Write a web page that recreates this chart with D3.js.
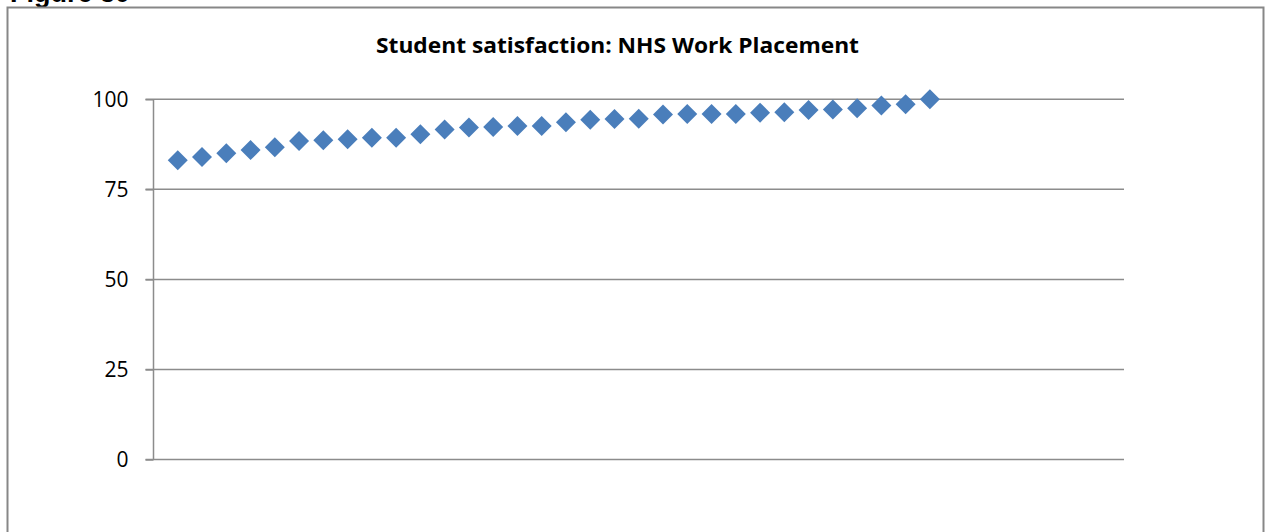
<!DOCTYPE html>
<html><head><meta charset="utf-8">
<script src="https://cdn.jsdelivr.net/npm/d3@7"></script>
<style>html,body{margin:0;padding:0;background:#fff;}svg{display:block;}</style>
</head><body>
<svg id="c" width="1266" height="532"></svg>
<script>
const title = "Student satisfaction: NHS Work Placement";
const figureLabel = "Figure 30";
const xIndex = [1,2,3,4,5,6,7,8,9,10,11,12,13,14,15,16,17,18,19,20,21,22,23,24,25,26,27,28,29,30,31,32];
const satisfaction = [83.1,84.0,85.0,85.9,86.7,88.4,88.6,88.9,89.3,89.3,90.3,91.6,92.2,92.3,92.6,92.6,93.6,94.3,94.5,94.6,95.8,95.9,95.9,95.9,96.3,96.4,97.0,97.2,97.5,98.3,98.6,100];
const yTicks = [0,25,50,75,100];
const xDomain = [0,40];

const svg = d3.select("#c");
const plot = {left:153.5, right:1124, top:99.3, bottom:459.5};

// Figure label (mostly cut off above the page, as in the original)
svg.append("text").attr("x",10).attr("y",2)
  .attr("font-family","Liberation Sans, Arial, sans-serif").attr("font-weight","bold")
  .attr("font-size",27).attr("fill","#000").text(figureLabel);

// chart box
svg.append("rect").attr("x",7.5).attr("y",7.5).attr("width",1256).attr("height",560)
  .attr("fill","#fff").attr("stroke","#878787").attr("stroke-width",2);

const x = d3.scaleLinear().domain(xDomain).range([plot.left, plot.right]);
const y = d3.scaleLinear().domain([0,100]).range([plot.bottom, plot.top]);

// gridlines
svg.append("g").selectAll("line").data(yTicks).join("line")
  .attr("x1",plot.left-8).attr("x2",plot.right)
  .attr("y1",d=>y(d)).attr("y2",d=>y(d))
  .attr("stroke","#8c8c8c").attr("stroke-width",1.5);

// y axis
const yAxis = d3.axisLeft(y).tickValues(yTicks).tickSize(8).tickPadding(17);
const ga = svg.append("g").attr("transform",`translate(${plot.left},0)`).call(yAxis);
ga.select(".domain").attr("stroke","#8c8c8c").attr("stroke-width",1.5).attr("d",`M0,${plot.top}V${plot.bottom}`);
ga.selectAll(".tick line").attr("stroke","#8c8c8c").attr("stroke-width",1.5);
ga.selectAll(".tick text").attr("font-family","Open Sans, sans-serif").attr("font-size",21).attr("fill","#000");

// title
svg.append("text").attr("x",617.5).attr("y",53).attr("text-anchor","middle")
  .attr("font-family","Open Sans, sans-serif").attr("font-weight","bold").attr("font-size",21)
  .attr("textLength",483).attr("lengthAdjust","spacingAndGlyphs")
  .attr("fill","#000").text(title);

// markers
const diamond = d3.symbol().type(d3.symbolSquare).size(200);
svg.append("g").selectAll("path").data(xIndex.map((d,i)=>[d,satisfaction[i]])).join("path")
  .attr("d",diamond)
  .attr("transform",d=>`translate(${x(d[0])},${y(d[1])}) rotate(45)`)
  .attr("fill","#4a7ebb");
</script>
</body></html>
